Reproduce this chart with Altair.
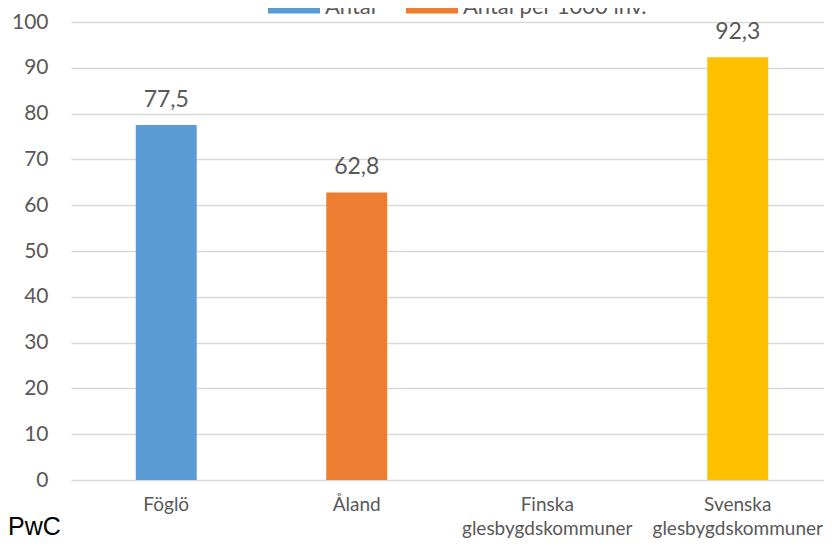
import altair as alt
import pandas as pd

kommuner = ["Föglö", "Åland", "Finska glesbygdskommuner", "Svenska glesbygdskommuner"]
varden = [77.5, 62.8, None, 92.3]
serier = ["Antal", "Antal per 1000 inv.", "Serie 3", "Serie 4"]
farger = ["#5B9BD5", "#ED7D31", "#A5A5A5", "#FFC000"]
y_ticks = list(range(0, 101, 10))
kalla = ["PwC"]

df = pd.DataFrame({"kommun": kommuner, "v": varden, "serie": serier})

FONT = "Lato"
GREY = "#595959"

base = alt.Chart(df)

x_enc = alt.X(
    "kommun:N",
    sort=kommuner,
    scale=alt.Scale(domain=kommuner, range=[0, 762], paddingInner=0.68, paddingOuter=0.34),
    axis=alt.Axis(
        title=None, labelAngle=0, domain=False, ticks=False,
        labelFont=FONT, labelFontSize=19, labelColor=GREY, labelPadding=15,
        labelExpr="split(datum.label, ' ')", labelLineHeight=24, labelLimit=400,
    ),
)
y_enc = alt.Y(
    "v:Q",
    scale=alt.Scale(domain=[0, 100], nice=False),
    axis=alt.Axis(
        title=None, values=y_ticks, domain=False, ticks=False, grid=True,
        gridColor="#D9D9D9", gridWidth=1.3,
        labelFont=FONT, labelFontSize=21, labelColor=GREY, labelPadding=23,
    ),
)

bars = base.transform_filter("isValid(datum.v)").mark_bar().encode(
    x=x_enc,
    y=y_enc,
    color=alt.Color(
        "serie:N",
        scale=alt.Scale(domain=serier, range=farger),
        legend=alt.Legend(
            title=None, values=serier[:2], orient="none", direction="horizontal",
            legendX=197, legendY=-41, padding=0,
            symbolType="M-1,-0.25H1V0.25H-1Z", symbolSize=2704, symbolStrokeWidth=0,
            symbolOpacity=1,
            labelFont=FONT, labelFontSize=22, labelColor=GREY, labelOffset=5,
            labelLimit=400, columnPadding=30,
        ),
    ),
)

labels = base.transform_filter("isValid(datum.v)").transform_calculate(
    txt="replace(format(datum.v, '.1f'), '.', ',')"
).mark_text(
    baseline="alphabetic", align="center", dy=-18,
    font=FONT, fontSize=23, color=GREY,
).encode(
    x=alt.X("kommun:N", sort=kommuner),
    y="v:Q",
    text="txt:N",
)

pwc = alt.Chart(pd.DataFrame({"t": kalla})).mark_text(
    align="left", baseline="alphabetic", font="Liberation Sans", fontSize=25, color="#000000"
).encode(
    text="t:N",
    x=alt.value(-63),
    y=alt.value(513),
)

chart = alt.layer(bars, labels, pwc).properties(
    width=753,
    height=458,
    autosize=alt.AutoSizeParams(type="none"),
    padding={"left": 63, "top": 14, "right": 0, "bottom": 60},
    background="white",
).configure_view(stroke=None)

chart.save("out.html", embed_options={"renderer": "svg", "actions": False})
